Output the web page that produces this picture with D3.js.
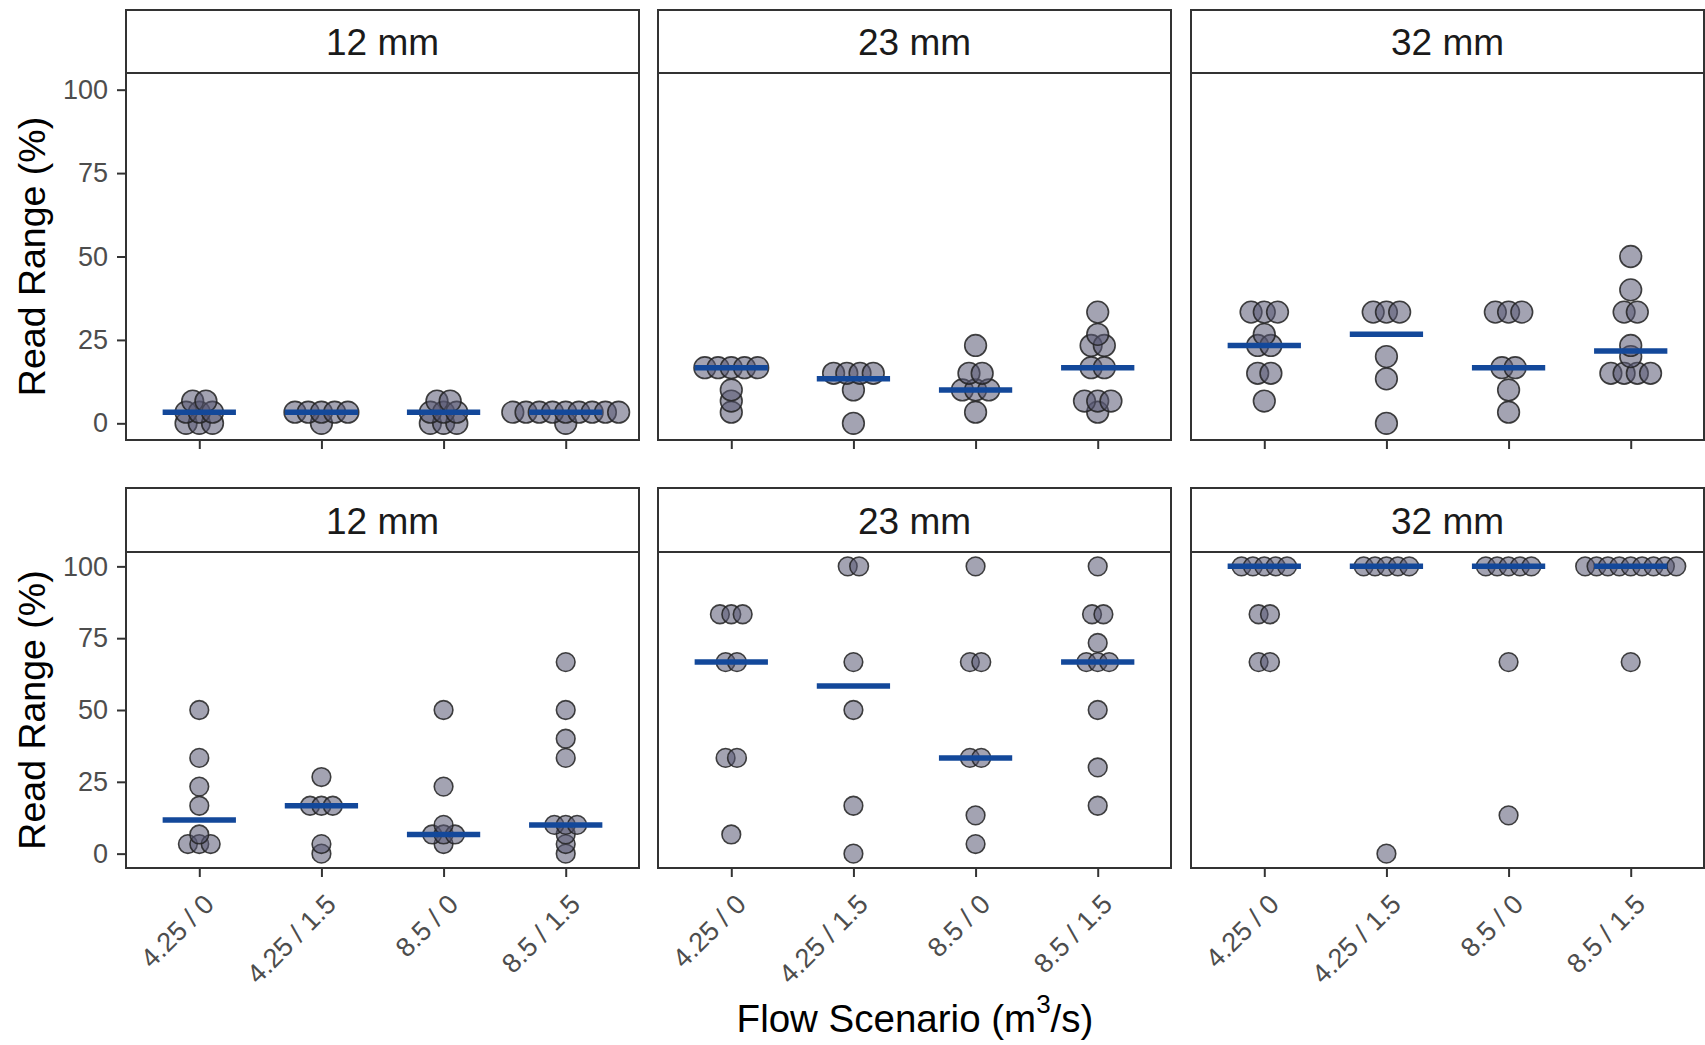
<!DOCTYPE html>
<html><head><meta charset="utf-8">
<script src="https://cdn.jsdelivr.net/npm/d3@7"></script>
<style>
body{margin:0;background:#fff}
svg{display:block}
text{font-family:"Liberation Sans",Arial,Helvetica,sans-serif}
</style>
</head><body>
<svg id="chart" width="1705" height="1045"></svg>
<script>
// ---------- data ----------
const scenarios = ["4.25 / 0", "4.25 / 1.5", "8.5 / 0", "8.5 / 1.5"];
const diameters = ["12 mm", "23 mm", "32 mm"];
const yTicks = [0, 25, 50, 75, 100];

// top row of panels
const topValues12 = [
  [0, 0, 0, 3.33, 3.33, 3.33, 6.67, 6.67],
  [0, 3.33, 3.33, 3.33, 3.33, 3.33],
  [0, 0, 0, 3.33, 3.33, 3.33, 6.67, 6.67],
  [0, 3.33, 3.33, 3.33, 3.33, 3.33, 3.33, 3.33, 3.33, 3.33]
];
const topValues23 = [
  [3.33, 6.67, 10, 16.67, 16.67, 16.67, 16.67, 16.67],
  [0, 10, 15, 15, 15, 15],
  [3.33, 10, 10, 10, 15, 15, 23.33],
  [3.33, 6.67, 6.67, 6.67, 16.67, 16.67, 23.33, 23.33, 26.67, 33.33]
];
const topValues32 = [
  [6.67, 15, 15, 23.33, 23.33, 26.67, 33.33, 33.33, 33.33],
  [0, 13.33, 20, 33.33, 33.33, 33.33],
  [3.33, 10, 16.67, 16.67, 33.33, 33.33, 33.33],
  [15, 15, 15, 15, 20, 23.33, 33.33, 33.33, 40, 50]
];
const topMedians12 = [3.33, 3.33, 3.33, 3.33];
const topMedians23 = [16.67, 13.33, 10, 16.67];
const topMedians32 = [23.33, 26.67, 16.67, 21.67];

// bottom row of panels
const bottomValues12 = [
  [3.33, 3.33, 3.33, 6.67, 16.67, 23.33, 33.33, 50],
  [0, 3.33, 16.67, 16.67, 16.67, 26.67],
  [3.33, 6.67, 6.67, 6.67, 10, 23.33, 50],
  [0, 3.33, 6.67, 10, 10, 10, 33.33, 40, 50, 66.67]
];
const bottomValues23 = [
  [6.67, 33.33, 33.33, 66.67, 66.67, 83.33, 83.33, 83.33],
  [0, 16.67, 50, 66.67, 100, 100],
  [3.33, 13.33, 33.33, 33.33, 66.67, 66.67, 100],
  [16.67, 30, 50, 66.67, 66.67, 66.67, 73.33, 83.33, 83.33, 100]
];
const bottomValues32 = [
  [66.67, 66.67, 83.33, 83.33, 100, 100, 100, 100, 100],
  [0, 100, 100, 100, 100, 100],
  [13.33, 66.67, 100, 100, 100, 100, 100],
  [66.67, 100, 100, 100, 100, 100, 100, 100, 100, 100]
];
const bottomMedians12 = [11.67, 16.67, 6.67, 10];
const bottomMedians23 = [66.67, 58.33, 33.33, 66.67];
const bottomMedians32 = [100, 100, 100, 100];

const yTitle = "Read Range (%)";

// ---------- layout ----------
const svg = d3.select("#chart");
const panelX = [126, 658, 1191];
const panelW = 513;
const rowsLayout = [
  {stripTop: 10, plotTop: 73, plotBottom: 440, values: [topValues12, topValues23, topValues32],
   medians: [topMedians12, topMedians23, topMedians32], labels: false},
  {stripTop: 488, plotTop: 552, plotBottom: 868, values: [bottomValues12, bottomValues23, bottomValues32],
   medians: [bottomMedians12, bottomMedians23, bottomMedians32], labels: true}
];

const dotUnits = 6.5;      // dot diameter in y units
const stackRatio = 0.61;
const dark = "#333333";

rowsLayout.forEach((row) => {
  const y = d3.scaleLinear().domain([-5, 105]).range([row.plotBottom, row.plotTop]);
  const d = Math.abs(y(0) - y(dotUnits));
  const r = d / 2;

  diameters.forEach((dia, pi) => {
    const x0 = panelX[pi];
    const x = d3.scalePoint().domain(scenarios).range([x0, x0 + panelW]).padding(0.6);
    const g = svg.append("g");

    // strip
    g.append("rect").attr("x", x0).attr("y", row.stripTop)
      .attr("width", panelW).attr("height", row.plotTop - row.stripTop)
      .attr("fill", "#fff").attr("stroke", dark).attr("stroke-width", 2);
    g.append("text").attr("x", x0 + panelW / 2).attr("y", (row.stripTop + row.plotTop) / 2 + 1)
      .attr("text-anchor", "middle").attr("dominant-baseline", "central")
      .attr("font-size", 37).attr("fill", "#1a1a1a").text(dia);

    // panel background + border
    g.append("rect").attr("x", x0).attr("y", row.plotTop)
      .attr("width", panelW).attr("height", row.plotBottom - row.plotTop)
      .attr("fill", "#fff").attr("stroke", dark).attr("stroke-width", 2);

    // x axis ticks
    const xAxis = d3.axisBottom(x).tickSize(9).tickSizeOuter(0).tickFormat(row.labels ? (t => t) : "");
    const ax = g.append("g").attr("transform", `translate(0,${row.plotBottom})`).call(xAxis);
    ax.select(".domain").remove();
    ax.selectAll(".tick line").attr("stroke", dark).attr("stroke-width", 2);
    if (row.labels) {
      ax.selectAll(".tick text")
        .attr("font-size", 27).attr("fill", "#4d4d4d")
        .attr("font-family", "Liberation Sans, Arial, sans-serif")
        .attr("text-anchor", "end")
        .attr("y", 0).attr("dy", "0.72em")
        .attr("transform", "translate(2,24) rotate(-45)");
    }

    // y axis on first panel
    if (pi === 0) {
      const yAxis = d3.axisLeft(y).tickValues(yTicks).tickSize(9).tickSizeOuter(0).tickPadding(9);
      const ay = g.append("g").attr("transform", `translate(${x0},0)`).call(yAxis);
      ay.select(".domain").remove();
      ay.selectAll(".tick line").attr("stroke", dark).attr("stroke-width", 2);
      ay.selectAll(".tick text").attr("font-size", 27).attr("fill", "#4d4d4d")
        .attr("font-family", "Liberation Sans, Arial, sans-serif");
    }

    // dots
    const dots = [];
    row.values[pi].forEach((vals, ci) => {
      const groups = d3.group(vals, v => Math.round(v * 100));
      groups.forEach((arr) => {
        const n = arr.length;
        arr.forEach((v, i) => {
          dots.push({cx: x(scenarios[ci]) + (i - (n - 1) / 2) * d * stackRatio, cy: y(v)});
        });
      });
    });
    g.append("g").selectAll("circle").data(dots).join("circle")
      .attr("cx", p => p.cx).attr("cy", p => p.cy).attr("r", r)
      .attr("fill", "rgb(88,88,115)").attr("fill-opacity", 0.55)
      .attr("stroke", "#222").attr("stroke-opacity", 0.85).attr("stroke-width", 1.6);

    // median lines
    const half = x.step() * 0.3;
    g.append("g").selectAll("line").data(row.medians[pi]).join("line")
      .attr("x1", (m, ci) => x(scenarios[ci]) - half)
      .attr("x2", (m, ci) => x(scenarios[ci]) + half)
      .attr("y1", m => y(m)).attr("y2", m => y(m))
      .attr("stroke", "#13489a").attr("stroke-width", 5.5);
  });

  // y title
  svg.append("text")
    .attr("transform", `translate(32,${(row.plotTop + row.plotBottom) / 2}) rotate(-90)`)
    .attr("text-anchor", "middle").attr("dominant-baseline", "central")
    .attr("font-size", 37.5).attr("fill", "#000").text(yTitle);
});

// x title with superscript
const xt = svg.append("text").attr("x", 915).attr("y", 1032)
  .attr("text-anchor", "middle").attr("font-size", 38.5).attr("fill", "#000");
xt.append("tspan").text("Flow Scenario (m");
xt.append("tspan").attr("font-size", 26).attr("dy", -19).text("3");
xt.append("tspan").attr("dy", 19).text("/s)");
</script>
</body></html>
